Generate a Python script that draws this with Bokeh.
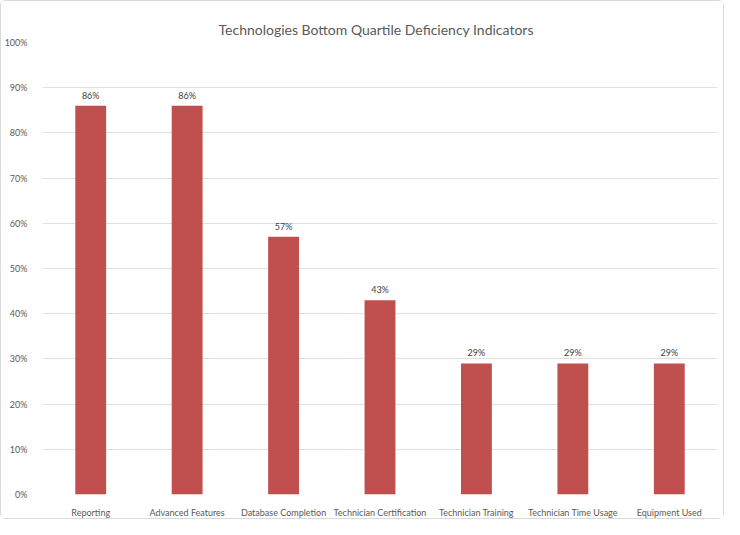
from bokeh.plotting import figure
from bokeh.models import ColumnDataSource, Range1d, FixedTicker, PrintfTickFormatter, Title
from bokeh.core.properties import value
from bokeh.embed import file_html
from bokeh.resources import INLINE

# data
categories = ["Reporting", "Advanced Features", "Database Completion",
              "Technician Certification", "Technician Training",
              "Technician Time Usage", "Equipment Used"]
values = [86, 86, 57, 43, 29, 29, 29]
labels = ["86%", "86%", "57%", "43%", "29%", "29%", "29%"]
y_ticks = [0, 10, 20, 30, 40, 50, 60, 70, 80, 90, 100]

source = ColumnDataSource(data=dict(cat=categories, val=values, lab=labels))

p = figure(x_range=categories, width=724, height=519,
           output_backend="svg", toolbar_location=None,
           min_border_left=40, min_border_right=8,
           min_border_top=41, min_border_bottom=20)
p.title = Title(text="Technologies Bottom Quartile Deficiency Indicators",
                align="left", offset=176, text_font="Lato",
                text_font_style="normal", text_font_size="14px",
                text_color="#595959")

p.vbar(x="cat", top="val", width=0.32, source=source,
       fill_color="#C0504D", line_color=None)
p.text(x="cat", y="val", text="lab", source=source, y_offset=-5,
       text_align="center", text_baseline="bottom",
       text_font=value("Lato"), text_font_size="9px", text_color="#404040")

p.y_range = Range1d(0, 100)
p.yaxis.ticker = FixedTicker(ticks=y_ticks)
p.yaxis.formatter = PrintfTickFormatter(format="%d%%")
p.yaxis.axis_line_color = None
p.yaxis.major_tick_line_color = None
p.yaxis.minor_tick_line_color = None
p.yaxis.major_label_text_font = "Lato"
p.yaxis.major_label_text_font_size = "9px"
p.yaxis.major_label_text_color = "#595959"
p.yaxis.major_label_standoff = 9

p.xaxis.axis_line_color = None
p.xaxis.major_tick_line_color = None
p.xaxis.major_label_text_font = "Lato"
p.xaxis.major_label_text_font_size = "9px"
p.xaxis.major_label_text_color = "#595959"
p.xaxis.major_label_standoff = 6

p.xgrid.grid_line_color = None
p.ygrid.grid_line_color = "#e0e0e0"
p.outline_line_color = None
p.styles = {"border": "1px solid #d9d9d9", "border-radius": "6px"}

open("out.html", "w").write(file_html(p, INLINE))
